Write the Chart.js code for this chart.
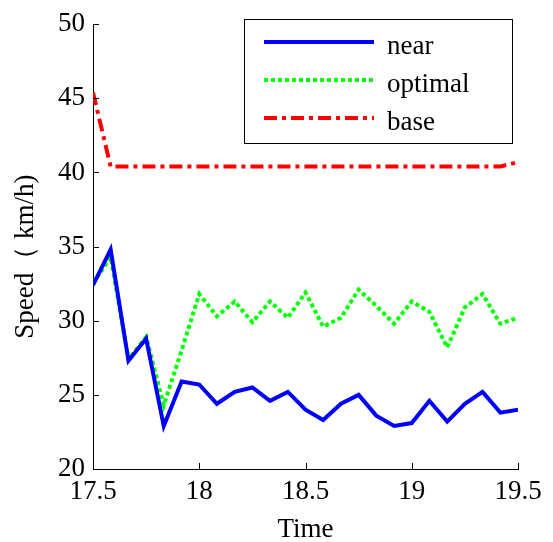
<!DOCTYPE html>
<html>
<head>
<meta charset="utf-8">
<script src="https://cdn.jsdelivr.net/npm/chart.js@4"></script>
<style>
  html, body { margin: 0; padding: 0; background: #fff; }
  #wrap { width: 553px; height: 542px; }
</style>
</head>
<body>
<div id="wrap"><canvas id="speedChart"></canvas></div>
<script>
// data (time in hours, speed in km/h)
var times = [17.5, 17.583, 17.667, 17.75, 17.833, 17.917, 18, 18.083, 18.167, 18.25, 18.333, 18.417,
    18.5, 18.583, 18.667, 18.75, 18.833, 18.917, 19, 19.083, 19.167, 19.25, 19.333, 19.417, 19.5];
var nearSpeed = [32.4, 34.8, 27.3, 28.8, 22.9, 25.9, 25.7, 24.4, 25.2, 25.5, 24.6, 25.2,
    24.0, 23.3, 24.4, 25.0, 23.6, 22.9, 23.1, 24.6, 23.2, 24.4, 25.2, 23.8, 24.0];
var optimalSpeed = [32.5, 34.3, 27.4, 28.9, 24.3, 28.0, 31.8, 30.3, 31.3, 29.9, 31.3, 30.2,
    31.9, 29.6, 30.2, 32.1, 31.0, 29.8, 31.3, 30.6, 28.2, 30.9, 31.8, 29.8, 30.2];
var baseSpeed = [45.4, 40.4, 40.4, 40.4, 40.4, 40.4, 40.4, 40.4, 40.4, 40.4, 40.4, 40.4,
    40.4, 40.4, 40.4, 40.4, 40.4, 40.4, 40.4, 40.4, 40.4, 40.4, 40.4, 40.4, 40.7];
var seriesNames = ["near", "optimal", "base"];
var xTicks = [17.5, 18, 18.5, 19, 19.5];
var yTicks = [20, 25, 30, 35, 40, 45, 50];

var serif = "'Liberation Serif', 'Times New Roman', serif";
var fontSize = 27;

function toPoints(values) {
    return values.map(function (v, i) { return { x: times[i], y: v }; });
}

// matlab style ticks pointing into the plot
var inwardTicks = {
    id: "inwardTicks",
    afterDraw: function (chart) {
        var c = chart.ctx, a = chart.chartArea;
        var xs = chart.scales.x, ys = chart.scales.y;
        c.save();
        c.strokeStyle = "#000";
        c.lineWidth = 1;
        c.beginPath();
        xTicks.forEach(function (t) {
            var px = Math.round(xs.getPixelForValue(t)) + 0.5;
            c.moveTo(px, a.bottom);
            c.lineTo(px, a.bottom - 6);
        });
        yTicks.forEach(function (t) {
            var py = Math.round(ys.getPixelForValue(t)) + 0.5;
            c.moveTo(a.left, py);
            c.lineTo(a.left + 6, py);
        });
        c.stroke();
        c.restore();
    }
};

// boxed legend in the top right corner
var boxLegend = {
    id: "boxLegend",
    afterDraw: function (chart) {
        var c = chart.ctx;
        var bx = 244.5, by = 19.5, bw = 268, bh = 124;
        c.save();
        c.fillStyle = "#fff";
        c.fillRect(bx, by, bw, bh);
        c.strokeStyle = "#000";
        c.lineWidth = 1;
        c.strokeRect(bx, by, bw, bh);
        chart.data.datasets.forEach(function (ds, i) {
            var ly = 42 + i * 38;
            c.beginPath();
            c.strokeStyle = ds.borderColor;
            c.lineWidth = ds.borderWidth;
            c.setLineDash(ds.borderDash || []);
            c.moveTo(264, ly);
            c.lineTo(374, ly);
            c.stroke();
            c.setLineDash([]);
            c.fillStyle = "#000";
            c.font = fontSize + "px " + serif;
            c.textAlign = "left";
            c.textBaseline = "alphabetic";
            c.fillText(ds.label, 387, ly + 12);
        });
        c.restore();
    }
};

var ctx = document.getElementById("speedChart").getContext("2d");

var myChart = new Chart(ctx, {
    type: "line",
    data: {
        datasets: [
            {
                label: seriesNames[0],
                data: toPoints(nearSpeed),
                borderColor: "#0000ff",
                borderWidth: 4,
                pointRadius: 0,
                tension: 0,
            },
            {
                label: seriesNames[1],
                data: toPoints(optimalSpeed),
                borderColor: "#00ff00",
                borderWidth: 4,
                borderDash: [4, 3],
                pointRadius: 0,
                tension: 0,
            },
            {
                label: seriesNames[2],
                data: toPoints(baseSpeed),
                borderColor: "#ff0000",
                borderWidth: 4,
                borderDash: [13, 5, 4, 5],
                pointRadius: 0,
                tension: 0,
            },
        ],
    },
    options: {
        responsive: true,
        maintainAspectRatio: false,
        animation: false,
        layout: { padding: { top: 21, right: 35, left: 0, bottom: 0 } },
        plugins: {
            legend: { display: false },
            tooltip: { enabled: false },
        },
        scales: {
            x: {
                type: "linear",
                min: 17.5,
                max: 19.5,
                afterBuildTicks: function (scale) {
                    scale.ticks = xTicks.map(function (v) { return { value: v }; });
                },
                afterFit: function (scale) { scale.height = 73; },
                grid: { drawOnChartArea: false, drawTicks: false },
                border: { color: "#000", width: 1 },
                ticks: {
                    padding: 7,
                    maxRotation: 0,
                    color: "#000",
                    font: { size: fontSize, family: serif },
                    callback: function (value) { return String(value); },
                },
                title: {
                    display: true,
                    text: "Time",
                    color: "#000",
                    font: { size: fontSize, family: serif, lineHeight: 0.9 },
                    padding: { top: 0, bottom: 0 },
                },
            },
            y: {
                min: 20,
                max: 50,
                afterBuildTicks: function (scale) {
                    scale.ticks = yTicks.map(function (v) { return { value: v }; });
                },
                afterFit: function (scale) { scale.width = 93; },
                grid: { drawOnChartArea: false, drawTicks: false },
                border: { color: "#000", width: 1 },
                ticks: {
                    padding: 8,
                    color: "#000",
                    font: { size: fontSize, family: serif },
                },
                title: {
                    display: true,
                    text: "Speed\uff08 km/h)   ",
                    color: "#000",
                    font: { size: fontSize, family: serif, lineHeight: 1 },
                    padding: { top: 12, bottom: 0 },
                },
            },
        },
    },
    plugins: [inwardTicks, boxLegend],
});
</script>
</body>
</html>
